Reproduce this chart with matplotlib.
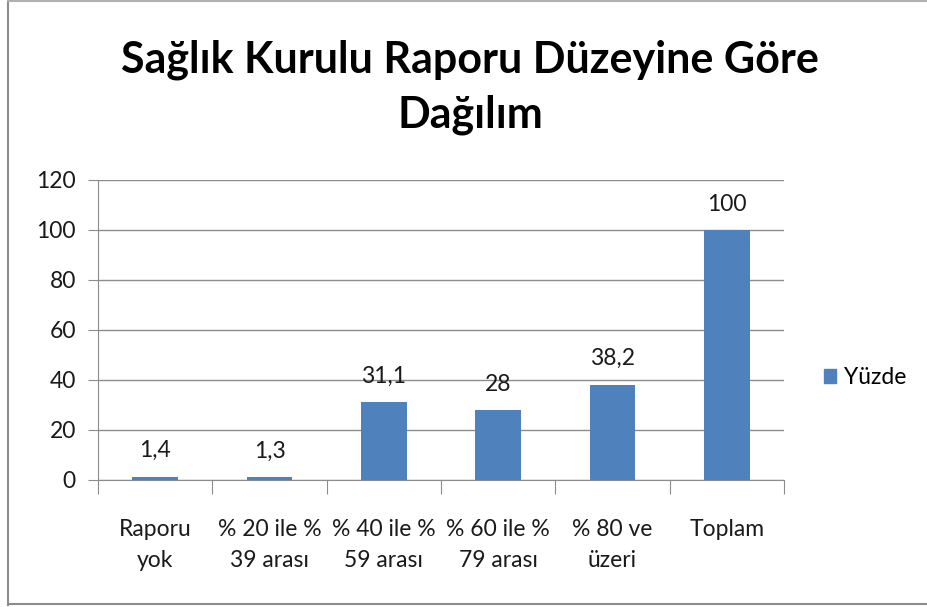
import matplotlib
matplotlib.use("Agg")
import matplotlib.pyplot as plt
from matplotlib.patches import Rectangle
from matplotlib.lines import Line2D

categories = ["Raporu\nyok", "% 20 ile %\n39 arası", "% 40 ile %\n59 arası",
              "% 60 ile %\n79 arası", "% 80 ve\nüzeri", "Toplam"]
values = [1.4, 1.3, 31.1, 28, 38.2, 100]
value_labels = ["1,4", "1,3", "31,1", "28", "38,2", "100"]
series_name = "Yüzde"
title = "Sağlık Kurulu Raporu Düzeyine Göre\nDağılım"
yticks = [0, 20, 40, 60, 80, 100, 120]

plt.rcParams['font.family'] = ['Lato', 'DejaVu Sans']
W, H = 928, 607
fig = plt.figure(figsize=(W / 100, H / 100), dpi=100)

# plot area in pixels: x 98..784, y 180..480
ax = fig.add_axes([98 / W, 1 - 480 / H, (784 - 98) / W, (480 - 180) / H])
x = list(range(len(categories)))
color = "#4F81BD"
ax.bar(x, values, width=0.4, color=color, zorder=3, label=series_name)
for xi, v, lab in zip(x, values, value_labels):
    ax.annotate(lab, (xi, v), xytext=(0, 11), textcoords="offset points",
                ha="center", va="bottom", fontsize=16.5, color="#1a1a1a")

ax.set_xlim(-0.5, len(categories) - 0.5)
ax.set_ylim(0, 120)
ax.set_yticks(yticks)
ax.set_yticklabels([str(t) for t in yticks], fontsize=16.5, color="#1a1a1a")
ax.yaxis.grid(True, color="#8c8c8c", linewidth=1, zorder=0)
ax.set_axisbelow(True)
for s in ["top", "right"]:
    ax.spines[s].set_visible(False)
ax.spines["left"].set_color("#8c8c8c")
ax.spines["bottom"].set_color("#8c8c8c")
ax.tick_params(axis="y", length=7, color="#8c8c8c", pad=9)

ax.set_xticks([i + 0.5 for i in range(-1, len(categories))])
ax.set_xticklabels([])
ax.set_xticks(x, minor=True)
ax.set_xticklabels(categories, minor=True, fontsize=16.5, color="#1a1a1a",
                   linespacing=1.6)
ax.tick_params(axis="x", which="major", length=10, color="#8c8c8c")
ax.tick_params(axis="x", which="minor", length=0, pad=28)

fig.text(470 / W, 1 - 87 / H, title, ha="center", va="center",
         fontsize=31, fontweight="bold", linespacing=1.45)

# legend
fig.legend(handles=[Rectangle((0, 0), 1, 1, color=color)], labels=[series_name],
           loc="center left", bbox_to_anchor=(803 / W, 1 - 378 / H),
           frameon=False, fontsize=16.5, handlelength=0.55, handleheight=0.55,
           handletextpad=0.35)

# figure border
fig.add_artist(Line2D([8 / W, 8 / W], [0.003, 0.999], transform=fig.transFigure,
                      color="#8c8c8c", linewidth=1.5))
fig.add_artist(Line2D([8 / W, 1], [1 - 604 / H, 1 - 604 / H], transform=fig.transFigure,
                      color="#8c8c8c", linewidth=1.5))
fig.add_artist(Line2D([8 / W, 1], [0.999, 0.999], transform=fig.transFigure,
                      color="#b0b0b0", linewidth=1.5))

fig.savefig("out.png", dpi=100)
